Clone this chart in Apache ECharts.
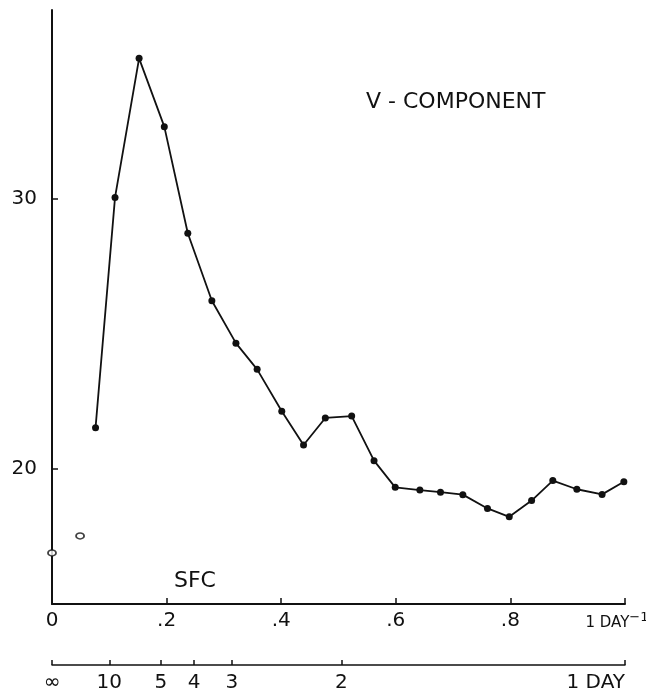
<!DOCTYPE html>
<html>
<head>
<meta charset="utf-8">
<script src="https://cdn.jsdelivr.net/npm/echarts@6/dist/echarts.min.js"></script>
<style>
html,body{margin:0;padding:0;background:#fff;}
#c{width:646px;height:700px;}
</style>
</head>
<body>
<div id="c"></div>
<script>
// Open-circle points (not connected)
const openFreq = [0.000, 0.049];
const openV = [16.89, 17.52];
// Connected V-component spectrum
const freq = [0.076, 0.110, 0.152, 0.196, 0.237, 0.279, 0.321, 0.358, 0.401, 0.439, 0.477, 0.523,
              0.562, 0.599, 0.642, 0.678, 0.717, 0.760, 0.798, 0.837, 0.874, 0.916, 0.960, 0.998];
const vComp = [21.53, 30.06, 35.21, 32.68, 28.73, 26.23, 24.66, 23.69, 22.14, 20.89, 21.89, 21.96,
               20.31, 19.32, 19.22, 19.14, 19.05, 18.54, 18.23, 18.83, 19.57, 19.25, 19.06, 19.53];
// Axis ticks
const yTickVals = [20, 30];
const freqTickVals = [0.2, 0.4, 0.6, 0.8, 1];
const freqLabelVals = [0, 0.2, 0.4, 0.6, 0.8, 1];
const freqLabels = ['0', '.2', '.4', '.6', '.8', '1 DAY'];
const periodTickVals = [0, 0.1, 0.19, 0.248, 0.314, 0.505, 1];
const periodLabels = ['∞', '10', '5', '4', '3', '2', '1 DAY'];

const FONT = 'DejaVu Sans';
const chart = echarts.init(document.getElementById('c'), null, {renderer: 'canvas'});

function lookup(vals, labels, v) {
  for (let i = 0; i < vals.length; i++) if (Math.abs(vals[i] - v) < 1e-6) return labels[i];
  return '';
}

chart.setOption({
  backgroundColor: '#fff',
  animation: false,
  title: [
    {text: 'V - COMPONENT', left: 361, top: 86,
     textStyle: {fontFamily: FONT, fontSize: 22, fontWeight: 'normal', color: '#111'}},
    {text: 'SFC', left: 169, top: 565,
     textStyle: {fontFamily: FONT, fontSize: 22, fontWeight: 'normal', color: '#111'}}
  ],
  grid: [
    {left: 52, right: 21, top: 10, bottom: 96, outerBoundsMode: 'none', containLabel: false},
    {left: 52, right: 21, top: 600, bottom: 35, outerBoundsMode: 'none', containLabel: false}
  ],
  xAxis: [
    {
      type: 'value', gridIndex: 0, min: 0, max: 1,
      splitLine: {show: false},
      axisLine: {show: true, onZero: false, lineStyle: {color: '#111', width: 2}},
      axisTick: {show: true, inside: true, length: 6, customValues: freqTickVals,
                 lineStyle: {color: '#111', width: 1.5}},
      axisLabel: {
        show: true, margin: 7, customValues: freqLabelVals,
        fontFamily: FONT, fontSize: 20, color: '#111',
        formatter: function (v) {
          const t = lookup(freqLabelVals, freqLabels, v);
          if (v === 1) return '{a|' + t + '}{s|−1}';
          return t;
        },
        rich: {
          a: {fontFamily: FONT, fontSize: 15, color: '#111'},
          s: {fontFamily: FONT, fontSize: 13, color: '#111', padding: [0, 16, 12, 0]}
        }
      }
    },
    {
      type: 'value', gridIndex: 1, min: 0, max: 1,
      splitLine: {show: false},
      axisLine: {show: true, onZero: false, lineStyle: {color: '#111', width: 1.5}},
      axisTick: {show: true, inside: true, length: 5, customValues: periodTickVals,
                 lineStyle: {color: '#111', width: 1.5}},
      axisLabel: {
        show: true, margin: 8, customValues: periodTickVals, alignMaxLabel: 'right',
        fontFamily: FONT, fontSize: 20, color: '#111',
        formatter: function (v) { return lookup(periodTickVals, periodLabels, v); }
      }
    }
  ],
  yAxis: [
    {
      type: 'value', gridIndex: 0, min: 15, max: 37,
      splitLine: {show: false},
      axisLine: {show: true, onZero: false, lineStyle: {color: '#111', width: 2}},
      axisTick: {show: true, inside: true, length: 6, customValues: yTickVals,
                 lineStyle: {color: '#111', width: 1.5}},
      axisLabel: {show: true, margin: 15, customValues: yTickVals,
                  fontFamily: FONT, fontSize: 20, color: '#111'}
    },
    {type: 'value', gridIndex: 1, min: 0, max: 1, show: false}
  ],
  series: [
    {
      type: 'line', xAxisIndex: 0, yAxisIndex: 0,
      data: freq.map((f, i) => [f, vComp[i]]),
      symbol: 'circle', symbolSize: 7,
      lineStyle: {color: '#111', width: 1.8},
      itemStyle: {color: '#111'}
    },
    {
      type: 'scatter', xAxisIndex: 0, yAxisIndex: 0,
      data: openFreq.map((f, i) => [f, openV[i]]),
      symbol: 'circle', symbolSize: [8, 6],
      itemStyle: {color: '#fff', borderColor: '#111', borderWidth: 1.6}
    }
  ]
});
</script>
</body>
</html>
